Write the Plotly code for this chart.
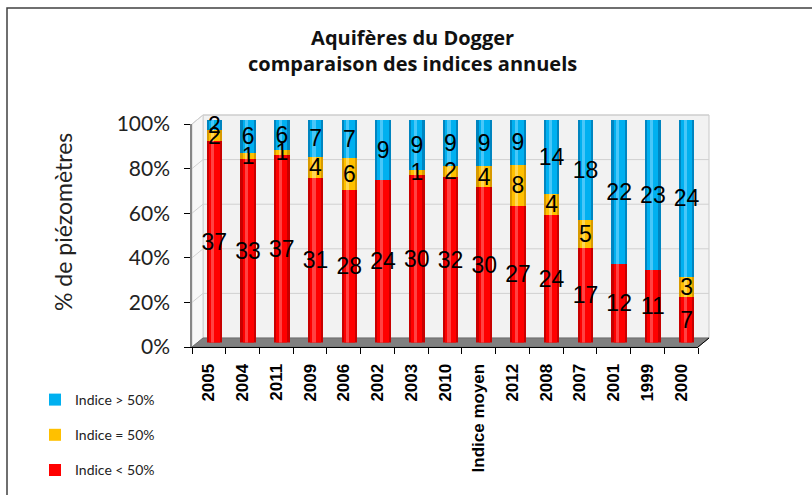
import plotly.graph_objects as go

# Piezometer counts per year, split by index class
categories = ["2005", "2004", "2011", "2009", "2006", "2002", "2003", "2010",
              "Indice moyen", "2012", "2008", "2007", "2001", "1999", "2000"]
below_50 = [37, 33, 37, 31, 28, 24, 30, 32, 30, 27, 24, 17, 12, 11, 7]
equal_50 = [2, 1, 1, 4, 6, 0, 1, 2, 4, 8, 4, 5, 0, 0, 3]
above_50 = [2, 6, 6, 7, 7, 9, 9, 9, 9, 9, 14, 18, 22, 23, 24]
y_ticks = [0, 20, 40, 60, 80, 100]
y_tick_text = ["0%", "20%", "40%", "60%", "80%", "100%"]

W, H = 812, 495


def px(x):
    return x / W


def py(y):
    return 1 - y / H


def lbl(vals):
    return [str(v) if v else "" for v in vals]


# name, values, face colour, edge shade, highlight, legend rank
series = [
    ("Indice < 50%", below_50, "#ff0000", "#c80000", "rgba(255,120,120,0.55)", 3),
    ("Indice = 50%", equal_50, "#ffc000", "#d89a00", "rgba(255,230,140,0.6)", 2),
    ("Indice > 50%", above_50, "#00b0f0", "#0085c0", "rgba(120,215,255,0.6)", 1),
]

BAR_W = 0.46
fig = go.Figure()
# cylinder body with shaded edges
for i, (name, vals, col, edge, hi, rank) in enumerate(series):
    fig.add_trace(go.Bar(
        x=categories, y=vals, name=name,
        marker=dict(color=edge, line=dict(width=0)),
        width=BAR_W, legendgroup=f"g{i}", showlegend=False, hoverinfo="skip",
        xaxis="x", yaxis="y",
    ))
# bright face of each cylinder
for i, (name, vals, col, edge, hi, rank) in enumerate(series):
    fig.add_trace(go.Bar(
        x=categories, y=vals, name=name,
        marker=dict(color=col, line=dict(width=0)),
        width=BAR_W * 0.72, legendgroup=f"g{i}", legendrank=rank,
        xaxis="x3", yaxis="y3",
    ))
# specular highlight strip
for i, (name, vals, col, edge, hi, rank) in enumerate(series):
    fig.add_trace(go.Bar(
        x=categories, y=vals, name=name,
        marker=dict(color=hi, line=dict(width=0)),
        width=BAR_W * 0.2, offset=-BAR_W * 0.2, legendgroup=f"g{i}",
        showlegend=False, hoverinfo="skip",
        xaxis="x4", yaxis="y4",
    ))
# value labels (on a taller axis so the topmost labels are not clipped)
for i, (name, vals, col, edge, hi, rank) in enumerate(series):
    fig.add_trace(go.Bar(
        x=categories, y=vals, name=name,
        marker=dict(color="rgba(0,0,0,0)", line=dict(width=0)),
        text=lbl(vals), textposition="inside", insidetextanchor="middle",
        textangle=0, constraintext="none",
        textfont=dict(family="Liberation Sans, Arial, sans-serif", size=23, color="black"),
        width=BAR_W, legendgroup=f"g{i}", showlegend=False,
        xaxis="x5", yaxis="y5",
    ))

# empty trace so the front axes get drawn
fig.add_trace(go.Scatter(x=[], y=[], xaxis="x2", yaxis="y2", showlegend=False,
                         hoverinfo="skip"))

# 3D wall geometry (front axis and back wall corners, pixels)
fx0, fx1, fy0, fy1 = 192, 698, 347, 124
dx, dy = 11, -9
bx0, bx1, by0, by1 = fx0 + dx, fx1 + dx, fy0 + dy, fy1 + dy

shapes = []
# frame
shapes.append(dict(type="rect", xref="paper", yref="paper",
                   x0=px(7), x1=px(W + 5), y0=py(8), y1=py(H + 5),
                   line=dict(color="#404040", width=1.5), fillcolor="white", layer="below"))
# back wall
shapes.append(dict(type="rect", xref="paper", yref="paper",
                   x0=px(bx0), x1=px(bx1), y0=py(by0), y1=py(by1),
                   line=dict(color="#c8c8c8", width=1), fillcolor="#f2f2f2", layer="below"))
# side wall
shapes.append(dict(type="path", xref="paper", yref="paper",
                   path=f"M {px(fx0)} {py(fy0)} L {px(bx0)} {py(by0)} L {px(bx0)} {py(by1)} L {px(fx0)} {py(fy1)} Z",
                   line=dict(color="#d0d0d0", width=1), fillcolor="#f7f7f7", layer="below"))
# gridlines on walls
for t in y_ticks[1:]:
    yf = fy0 - (fy0 - fy1) * t / 100
    yb = by0 - (by0 - by1) * t / 100
    shapes.append(dict(type="line", xref="paper", yref="paper",
                       x0=px(fx0), y0=py(yf), x1=px(bx0), y1=py(yb),
                       line=dict(color="#d0d0d0", width=1), layer="below"))
    shapes.append(dict(type="line", xref="paper", yref="paper",
                       x0=px(bx0), y0=py(yb), x1=px(bx1), y1=py(yb),
                       line=dict(color="#d0d0d0", width=1), layer="below"))
# floor
shapes.append(dict(type="path", xref="paper", yref="paper",
                   path=f"M {px(fx0)} {py(fy0)} L {px(fx1)} {py(fy0)} L {px(bx1)} {py(by0)} L {px(bx0)} {py(by0)} Z",
                   line=dict(color="#6e6e6e", width=1), fillcolor="#808080", layer="below"))
# right end of the front axis
shapes.append(dict(type="line", xref="paper", yref="paper",
                   x0=px(fx1), y0=py(fy0), x1=px(bx1), y1=py(by0),
                   line=dict(color="black", width=1), layer="above"))

# bars sit half-way between the front axis and the back wall
bar_bottom, bar_top = fy0 + dy / 2, fy1 + dy / 2
bar_xdom = [px(fx0 + dx / 2), px(fx1 + dx / 2)]
bar_ydom = [py(bar_bottom), py(bar_top)]
# label axis: same scale, extended 10 units upward
ext = 10
lab_top = bar_top - (bar_bottom - bar_top) * ext / 100
cat_axis = dict(range=[-0.5, 14.5], type="category", categoryorder="array",
                categoryarray=categories, visible=False)

fig.update_layout(
    width=W, height=H,
    margin=dict(l=0, r=0, t=0, b=0, autoexpand=False),
    paper_bgcolor="white", plot_bgcolor="rgba(0,0,0,0)",
    barmode="stack", barnorm="percent",
    shapes=shapes,
    showlegend=True,
    legend=dict(x=px(35), y=py(384), xanchor="left", yanchor="top",
                orientation="v", traceorder="grouped", tracegroupgap=14,
                font=dict(family="Lato, Carlito, sans-serif", size=14, color="#222"),
                bgcolor="rgba(0,0,0,0)", itemwidth=30),
    xaxis=dict(domain=bar_xdom, anchor="y", **cat_axis),
    yaxis=dict(domain=bar_ydom, range=[0, 100], visible=False, anchor="x"),
    xaxis3=dict(overlaying="x", anchor="y3", **cat_axis),
    yaxis3=dict(overlaying="y", range=[0, 100], visible=False, anchor="x3"),
    xaxis4=dict(overlaying="x", anchor="y4", **cat_axis),
    yaxis4=dict(overlaying="y", range=[0, 100], visible=False, anchor="x4"),
    xaxis5=dict(domain=bar_xdom, anchor="y5", **cat_axis),
    yaxis5=dict(domain=[py(bar_bottom), py(lab_top)], range=[0, 100 + ext],
                visible=False, anchor="x5"),
    # front axes carrying ticks and labels
    xaxis2=dict(domain=[px(fx0), px(fx1)], range=[-0.5, 14.5], anchor="y2",
                tickmode="array", tickvals=list(range(len(categories))), ticktext=categories,
                tickangle=-90, ticks="", showgrid=False, zeroline=False,
                showline=True, linecolor="black", linewidth=1, ticklabelstandoff=9,
                tickfont=dict(family="Liberation Sans, Arial, sans-serif", size=17, color="black",
                              weight="bold"),
                minor=dict(tickvals=[i - 0.5 for i in range(len(categories) + 1)],
                           ticks="outside", ticklen=6, tickcolor="black", showgrid=False)),
    yaxis2=dict(domain=[py(fy0), py(fy1)], range=[0, 100], anchor="x2",
                tickmode="array", tickvals=y_ticks, ticktext=y_tick_text,
                ticks="outside", ticklen=6, ticklabelstandoff=10,
                tickcolor="black", showgrid=False, zeroline=False,
                showline=True, linecolor="#868686", linewidth=1.5,
                tickfont=dict(family="Lato, Carlito, sans-serif", size=21, color="#222")),
    annotations=[
        dict(text="<b>Aquifères du Dogger</b><br><b>comparaison des indices annuels</b>",
             x=px(412), y=py(36), xref="paper", yref="paper",
             xanchor="center", yanchor="middle", yshift=-14, showarrow=False,
             font=dict(family="Open Sans, Lato, sans-serif", size=20, color="#111")),
        dict(text="% de piézomètres", textangle=-90,
             x=px(63), y=py(222), xref="paper", yref="paper",
             xanchor="center", yanchor="middle", showarrow=False,
             font=dict(family="Lato, Carlito, sans-serif", size=23, color="#222")),
    ],
)

fig.write_html("out.html")
